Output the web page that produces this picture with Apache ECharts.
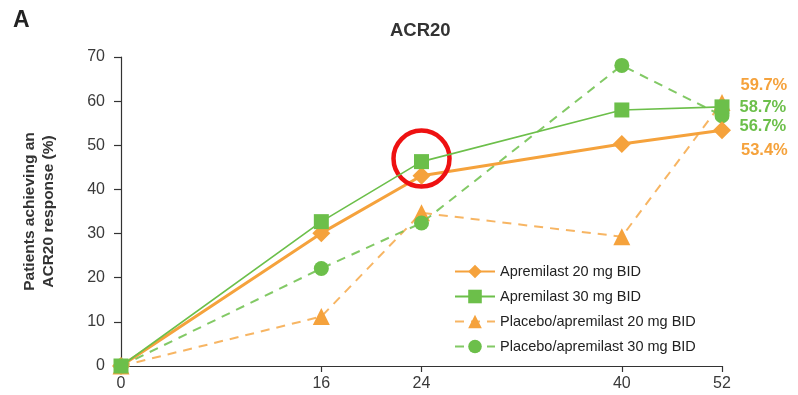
<!DOCTYPE html>
<html>
<head>
<meta charset="utf-8">
<title>ACR20</title>
<script src="https://cdn.jsdelivr.net/npm/echarts@6/dist/echarts.min.js"></script>
<style>
  html, body { margin: 0; padding: 0; background: #fff; }
  #chart { width: 798px; height: 395px; }
</style>
</head>
<body>
<div id="chart"></div>
<script>
// Study weeks; blank slots keep the uneven spacing of the visits on the axis
const weekSlots = ['0', '', '', '', '16', '', '24', '', '', '', '40', '', '52'];
const weeks = ['0', '16', '24', '40', '52'];

// Percentage of patients achieving an ACR20 response
const apremilast20 = [0, 30.1, 43.1, 50.3, 53.4];
const apremilast30 = [0, 32.7, 46.3, 58.0, 58.7];
const placeboApremilast20 = [0, 11.2, 34.7, 29.3, 59.7];
const placeboApremilast30 = [0, 22.1, 32.4, 68.1, 56.7];

const yTicks = [0, 10, 20, 30, 40, 50, 60, 70];

const ORANGE = '#f5a23c';
const GREEN = '#6cbf4a';
const FONT = 'Liberation Sans, Arial, sans-serif';

function toPoints(values, endLabelOffset) {
  return values.map((v, i) => {
    const item = { value: [weeks[i], v] };
    if (i === values.length - 1) {
      item.label = {
        show: true,
        position: 'right',
        distance: 10,
        offset: endLabelOffset,
        formatter: (p) => p.value[1].toFixed(1) + '%',
        fontFamily: FONT,
        fontWeight: 'bold',
        fontSize: 16.5
      };
    }
    return item;
  });
}

const chart = echarts.init(document.getElementById('chart'), null, { renderer: 'canvas' });

chart.setOption({
  animation: false,
  backgroundColor: '#ffffff',
  textStyle: { fontFamily: FONT },
  title: {
    text: 'ACR20',
    left: 385,
    top: 16,
    textStyle: { fontSize: 18.5, fontWeight: 'bold', color: '#333333' }
  },
  graphic: [{
    type: 'text',
    left: 13,
    top: 9,
    style: {
      text: 'A',
      font: 'bold 23px Liberation Sans, Arial, sans-serif',
      fill: '#222222'
    }
  }],
  grid: {
    left: 121,
    right: 76,
    top: 57,
    bottom: 29,
    outerBoundsMode: 'none'
  },
  legend: {
    orient: 'vertical',
    left: 449,
    top: 259,
    itemWidth: 40,
    itemHeight: 17,
    itemGap: 10,
    textStyle: { fontSize: 14.5, color: '#222222' },
    data: [
      'Apremilast 20 mg BID',
      'Apremilast 30 mg BID',
      'Placebo/apremilast 20 mg BID',
      'Placebo/apremilast 30 mg BID'
    ]
  },
  xAxis: {
    type: 'category',
    data: weekSlots,
    boundaryGap: false,
    axisLine: { lineStyle: { color: '#333333', width: 1.2 } },
    axisTick: {
      length: 6,
      lineStyle: { color: '#333333', width: 1.2 },
      interval: (idx, val) => val !== ''
    },
    axisLabel: {
      interval: 0,
      margin: 10,
      fontSize: 16,
      color: '#3a3a3a'
    },
    splitLine: { show: false }
  },
  yAxis: {
    type: 'value',
    min: yTicks[0],
    max: yTicks[yTicks.length - 1],
    interval: 10,
    name: 'Patients achieving an\nACR20 response (%)',
    nameLocation: 'middle',
    nameGap: 63,
    nameTextStyle: {
      fontSize: 15.5,
      fontWeight: 'bold',
      color: '#333333',
      lineHeight: 19
    },
    axisLine: { show: true, lineStyle: { color: '#333333', width: 1.2 } },
    axisTick: { show: true, length: 7, lineStyle: { color: '#333333', width: 1.2 } },
    axisLabel: { margin: 16, fontSize: 16, color: '#3a3a3a' },
    splitLine: { show: false }
  },
  series: [
    {
      name: 'Placebo/apremilast 20 mg BID',
      type: 'line',
      data: toPoints(placeboApremilast20, [0, -17]),
      symbol: 'triangle',
      symbolSize: 17,
      itemStyle: { color: ORANGE },
      lineStyle: { color: ORANGE, width: 2, type: [9, 7], opacity: 0.8 },
      label: { color: ORANGE },
      z: 2
    },
    {
      name: 'Placebo/apremilast 30 mg BID',
      type: 'line',
      data: toPoints(placeboApremilast30, [0, 11]),
      symbol: 'circle',
      symbolSize: 15,
      itemStyle: { color: GREEN },
      lineStyle: { color: GREEN, width: 2, type: [9, 7], opacity: 0.85 },
      label: { color: GREEN },
      z: 3
    },
    {
      name: 'Apremilast 20 mg BID',
      type: 'line',
      data: toPoints(apremilast20, [0, 20]),
      symbol: 'diamond',
      symbolSize: 18,
      itemStyle: { color: ORANGE },
      lineStyle: { color: ORANGE, width: 3 },
      label: { color: ORANGE },
      z: 4
    },
    {
      name: 'Apremilast 30 mg BID',
      type: 'line',
      data: toPoints(apremilast30, [0, 1]),
      symbol: 'rect',
      symbolSize: 15,
      itemStyle: { color: GREEN },
      lineStyle: { color: GREEN, width: 1.6 },
      label: { color: GREEN },
      z: 5,
      markPoint: {
        silent: true,
        symbol: 'circle',
        symbolSize: 56,
        symbolOffset: [0, -3],
        label: { show: false },
        itemStyle: { color: 'rgba(0,0,0,0)', borderColor: '#ee1111', borderWidth: 4.5 },
        data: [{ coord: [weeks[2], apremilast30[2]] }]
      }
    }
  ]
});
</script>
</body>
</html>
